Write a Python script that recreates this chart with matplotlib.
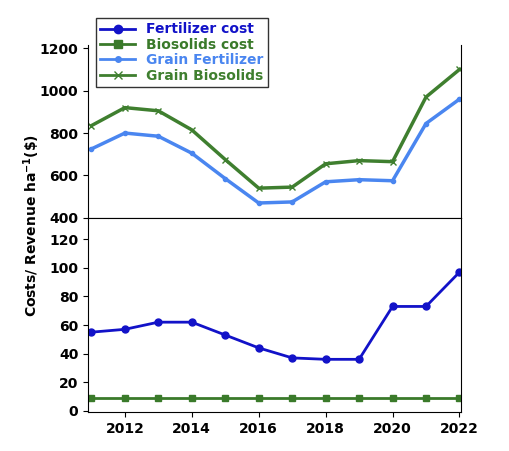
import matplotlib
matplotlib.use("Agg")
import matplotlib.pyplot as plt
from matplotlib.lines import Line2D

years = list(range(2011, 2023))
fert_cost = [55, 57, 62, 62, 53, 44, 37, 36, 36, 73, 73, 97]
bio_cost = [9]*12
grain_fert = [725, 800, 785, 705, 585, 470, 475, 570, 580, 575, 845, 960]
grain_bio = [835, 920, 905, 815, 675, 540, 545, 655, 670, 665, 970, 1100]

fig = plt.figure(figsize=(5.09, 4.51), dpi=100)
ax1 = fig.add_axes([0.173, 0.517, 0.733, 0.383])
ax2 = fig.add_axes([0.173, 0.086, 0.733, 0.431])

c_fc, c_bc, c_gf, c_gb = "#1212c8", "#3a7a2a", "#4a86f0", "#3f7f2f"
ax1.plot(years, grain_fert, color=c_gf, lw=2.5, marker='o', ms=3)
ax1.plot(years, grain_bio, color=c_gb, lw=2.5, marker='x', ms=5)
ax2.plot(years, fert_cost, color=c_fc, lw=2, marker='o', ms=5)
ax2.plot(years, bio_cost, color=c_bc, lw=2, marker='s', ms=5)

for ax in (ax1, ax2):
    ax.set_xlim(2010.9, 2022.05)
    ax.tick_params(labelsize=10)
ax1.set_ylim(400, 1215)
ax1.set_yticks([400, 600, 800, 1000, 1200])
ax1.set_xticks([])
ax1.spines['top'].set_visible(False)
ax2.set_ylim(-1, 135)
ax2.set_yticks(range(0, 121, 20))
ax2.set_xticks(range(2012, 2023, 2))
for ax in (ax1, ax2):
    for lab in ax.get_yticklabels() + ax.get_xticklabels():
        lab.set_fontweight('bold')
fig.text(0.063, 0.5, r"Costs/ Revenue ha$^{\mathbf{-1}}$(\$)", rotation=90, va='center', ha='center',
         fontsize=10, fontweight='bold')

handles = [Line2D([], [], color=c_fc, lw=2, marker='o'),
           Line2D([], [], color=c_bc, lw=2, marker='s'),
           Line2D([], [], color=c_gf, lw=2, marker='o', ms=4),
           Line2D([], [], color=c_gb, lw=2, marker='x')]
labels = ["Fertilizer cost", "Biosolids cost", "Grain Fertilizer", "Grain Biosolids"]
leg = fig.legend(handles, labels, loc='upper left', bbox_to_anchor=(0.175, 0.975),
                 frameon=True, fancybox=False, edgecolor='black', fontsize=10,
                 borderpad=0.3, labelspacing=0.1, handlelength=2.5)
for t, c in zip(leg.get_texts(), [c_fc, c_bc, c_gf, c_gb]):
    t.set_color(c); t.set_fontweight('bold')
fig.savefig("out.png", dpi=100)
